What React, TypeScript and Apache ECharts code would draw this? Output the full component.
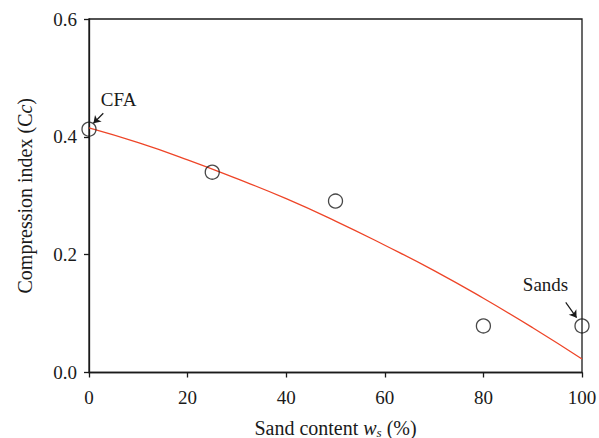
import React, { useEffect, useRef } from "react";
import * as echarts from "echarts";

const sandContent = [0, 25, 50, 80, 100];
const compressionIndex = [0.413, 0.34, 0.291, 0.079, 0.079];

const fitX = [0, 10, 20, 30, 40, 50, 60, 70, 80, 90, 100];
const fitY = [0.415, 0.39, 0.361, 0.329, 0.295, 0.257, 0.216, 0.173, 0.126, 0.076, 0.023];

const xTicks = [0, 20, 40, 60, 80, 100];
const yTicks = [0.0, 0.2, 0.4, 0.6];

const annotations = [
  { text: "CFA", at: [6.0, 0.463], from: [2.9, 0.44], to: [0.9, 0.423] },
  { text: "Sands", at: [92.6, 0.149], from: [96.7, 0.119], to: [98.9, 0.093] },
];

const FONT = "'Liberation Serif', 'DejaVu Serif', serif";
const INK = "#1a1a1a";

export default function App() {
  const ref = useRef<HTMLDivElement>(null);
  useEffect(() => {
    document.body.style.margin = "0";
    const chart = echarts.init(ref.current!, undefined, { renderer: "svg" });
    const axisLine = { lineStyle: { color: INK, width: 1.3 } };
    chart.setOption({
      animation: false,
      backgroundColor: "#ffffff",
      textStyle: { fontFamily: FONT },
      grid: {
        left: 89, right: 17, top: 19, bottom: 65.5,
        containLabel: false, outerBoundsMode: "none",
        show: true, borderColor: INK, borderWidth: 1.3, backgroundColor: "transparent",
      },
      xAxis: {
        type: "value",
        min: 0,
        max: 100,
        interval: 20,
        axisLine: { ...axisLine, onZero: false },
        axisTick: { show: true, inside: false, length: 5, lineStyle: { color: INK, width: 1.3 } },
        splitLine: { show: false },
        axisLabel: {
          margin: 15,
          fontSize: 19,
          color: INK,
          fontFamily: FONT,
          formatter: (v: number) => (xTicks.includes(v) ? String(v) : ""),
        },
        name: "{n|Sand content }{i|w}{s|s}{n| (%)}",
        nameLocation: "middle",
        nameGap: 44,
        nameTextStyle: {
          rich: {
            n: { fontSize: 20, fontFamily: FONT, color: INK },
            i: { fontSize: 20, fontFamily: FONT, fontStyle: "italic", color: INK },
            s: { fontSize: 13, fontFamily: FONT, fontStyle: "italic", color: INK, verticalAlign: "bottom", padding: [9, 0, 0, 0] },
          },
        },
      },
      yAxis: {
        type: "value",
        min: 0,
        max: 0.6,
        interval: 0.2,
        axisLine: { ...axisLine, onZero: false },
        axisTick: { show: true, inside: false, length: 5, lineStyle: { color: INK, width: 1.3 } },
        splitLine: { show: false },
        axisLabel: {
          margin: 12,
          fontSize: 19,
          color: INK,
          fontFamily: FONT,
          formatter: (v: number) => {
            const t = yTicks.find((y) => Math.abs(y - v) < 1e-9);
            return t === undefined ? "" : t.toFixed(1);
          },
        },
        name: "{n|Compression index (C}{i|c}{n|)}",
        nameLocation: "middle",
        nameGap: 54,
        nameTextStyle: {
          rich: {
            n: { fontSize: 20, fontFamily: FONT, color: INK },
            i: { fontSize: 20, fontFamily: FONT, fontStyle: "italic", color: INK },
          },
        },
      },
      series: [
        {
          type: "line",
          data: fitX.map((x, i) => [x, fitY[i]]),
          smooth: true,
          showSymbol: false,
          symbol: "none",
          lineStyle: { color: "#ee4528", width: 1.3 },
          z: 2,
        },
        {
          type: "scatter",
          data: sandContent.map((x, i) => [x, compressionIndex[i]]),
          symbol: "circle",
          symbolSize: 14,
          itemStyle: { color: "rgba(255,255,255,0)", borderColor: INK, borderWidth: 1.3 },
          z: 3,
        },
        {
          type: "lines",
          coordinateSystem: "cartesian2d",
          symbol: ["none", "arrow"],
          symbolSize: 7,
          lineStyle: { color: INK, width: 1.2, opacity: 1 },
          data: annotations.map((a) => ({ coords: [a.from, a.to] })),
          z: 4,
        },
      ],
    });
    chart.setOption({
      graphic: annotations.map((a) => {
        const p = chart.convertToPixel({ gridIndex: 0 }, a.at) as number[];
        return {
          type: "text",
          x: p[0],
          y: p[1],
          z: 10,
          style: {
            text: a.text,
            fill: INK,
            font: `19px ${FONT}`,
            align: "center",
            verticalAlign: "middle",
          },
        };
      }),
    });
    return () => chart.dispose();
  }, []);
  return <div ref={ref} style={{ width: 599, height: 438 }} />;
}
